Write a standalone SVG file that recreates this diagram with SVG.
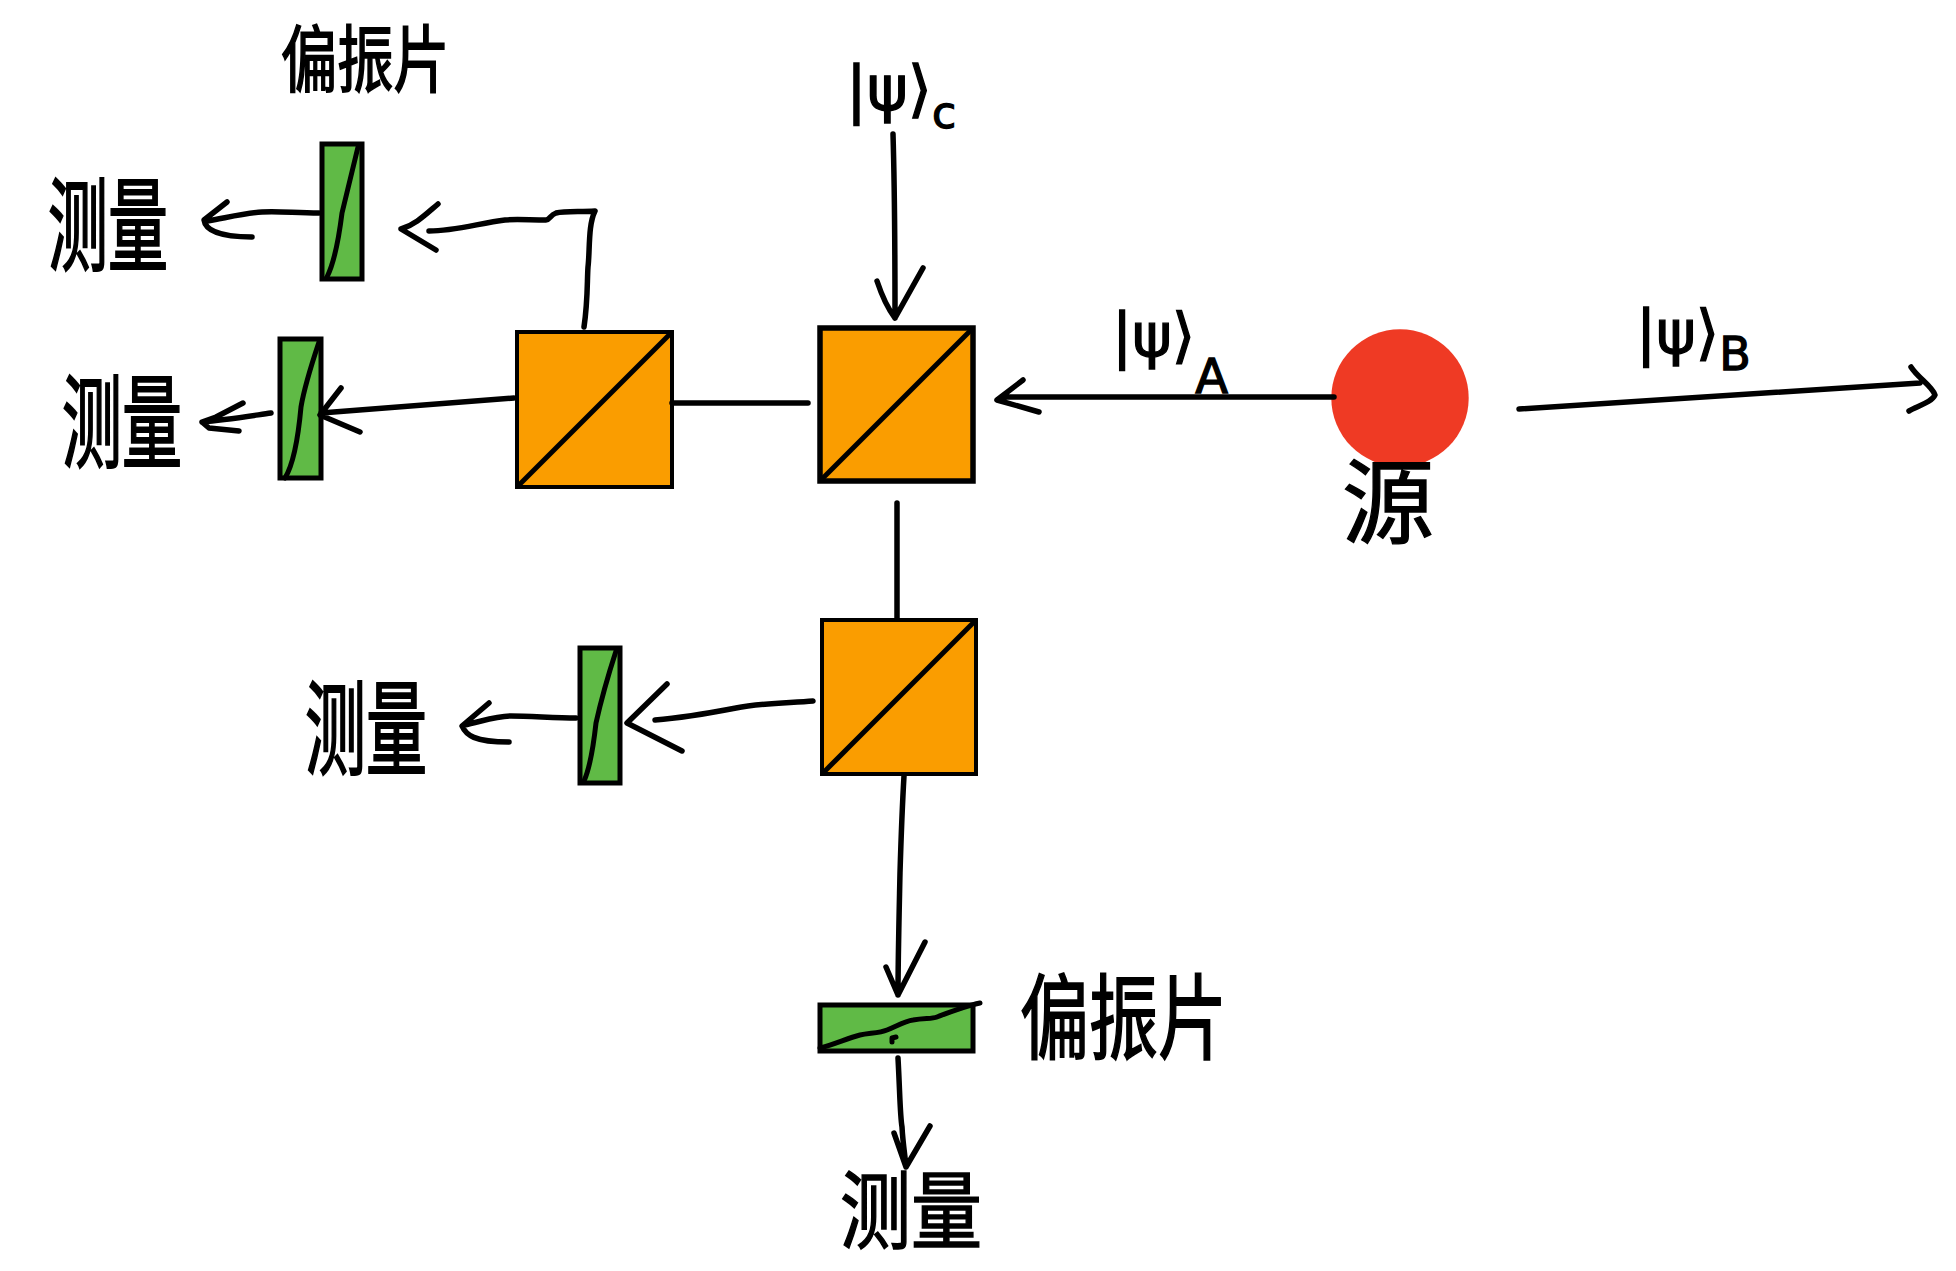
<svg xmlns="http://www.w3.org/2000/svg" width="1956" height="1271" viewBox="0 0 1956 1271">
<style>
.bg{fill:#fff}
.o{fill:#FA9D00;stroke:#000;stroke-width:4}
.g{fill:#60BA46;stroke:#000;stroke-width:5}
.d{fill:none;stroke:#000;stroke-width:5;stroke-linecap:round;stroke-linejoin:round}
.c path{fill:none;stroke:#000;stroke-width:5.5;stroke-linecap:round;stroke-linejoin:round}
.t{font-family:"Noto Sans CJK SC","Noto Sans",sans-serif;fill:#000;stroke:#000;stroke-width:1.3}
.k{font-family:"DejaVu Sans","Liberation Sans",sans-serif;fill:#000;stroke:#000;stroke-width:1.3}
</style>
<rect class="bg" width="1956" height="1271"/>
<g id="beamsplitter-1"><rect class="o" x="517" y="332" width="155" height="155"/><path class="d" d="M519 485L670 334"/></g>
<g id="beamsplitter-2"><rect class="o" x="820" y="328" width="153" height="153" style="stroke-width:5.5"/><path class="d" d="M822 479L971 330"/></g>
<g id="beamsplitter-3"><rect class="o" x="822" y="620" width="154" height="154"/><path class="d" d="M824 772L974 622"/></g>
<g id="source"><circle cx="1400" cy="398" r="68.7" fill="#EF3A24"/><text class="t" x="1342" y="536" font-size="92">源</text></g>
<g id="polarizer-1"><rect class="g" x="322" y="144" width="40" height="135"/><path class="d" d="M358 147C350 180 345 200 342 213C338 245 333 265 327 277"/><text class="t" transform="translate(281 86) scale(1.04 1.35)" font-size="54">偏振片</text></g>
<g id="polarizer-2"><rect class="g" x="280" y="339" width="41" height="139"/><path class="d" d="M319 342C308 375 303 395 301 407C298 440 293 465 285 478"/></g>
<g id="polarizer-3"><rect class="g" x="580" y="648" width="40" height="135"/><path class="d" d="M616 651C605 685 600 705 596 723C593 750 589 770 584 781"/></g>
<g id="polarizer-4"><rect class="g" x="820" y="1005" width="153" height="46"/><path class="d" d="M820 1048C835 1044 848 1038 860 1035C870 1033 880 1033 887 1030C897 1026 905 1021 913 1020C925 1018 932 1019 937 1017C950 1012 965 1006 980 1003"/><path class="d" d="M892 1042L892 1038L896 1037"/><text class="t" transform="translate(1020 1052) scale(1 1.35)" font-size="69">偏振片</text></g>
<g id="measure-1"><text class="t" transform="translate(48 263) scale(1 1.7)" font-size="60">测量</text></g>
<g id="measure-2"><text class="t" transform="translate(62 460) scale(1 1.7)" font-size="60">测量</text></g>
<g id="measure-3"><text class="t" transform="translate(305 767) scale(1 1.7)" font-size="61">测量</text></g>
<g id="measure-4"><text class="t" transform="translate(840 1242) scale(1 1.2)" font-size="71">测量</text></g>
<g id="state-c"><text class="k" x="846" y="110" font-size="62">|ψ⟩<tspan font-size="44" dy="18">c</tspan></text></g>
<g id="state-a"><text class="k" x="1112" y="356" font-size="60">|ψ⟩<tspan font-size="48" dy="37">A</tspan></text></g>
<g id="state-b"><text class="k" x="1636" y="353" font-size="60">|ψ⟩<tspan font-size="46" dy="17">B</tspan></text></g>
<g id="connectors" class="c">
<path d="M893 134C895 200 895 260 895 318M877 281Q885 305 895 318L923 268"/>
<path d="M1334 397L1002 397M1023 380L997 400L1039 412"/>
<path d="M1519 409L1920 383M1911 367C1918 378 1932 386 1935 395C1932 402 1918 406 1909 411"/>
<path d="M672 403L808 403"/>
<path d="M897 503L897 618"/>
<path d="M584 327C588 300 587 280 588 267C590 250 588 225 595 211C580 212 565 211 556 213C550 215 550 220 546 220C530 220 515 219 505 220C480 223 455 231 429 231M438 204C425 215 415 225 401 229L436 250"/>
<path d="M319 213C295 213 280 211 262 212C245 213 225 218 207 221M227 202L204 220C205 228 215 237 252 237"/>
<path d="M514 398L321 413M341 388L320 415L360 432"/>
<path d="M271 413C250 416 225 420 202 422M243 403L216 417L202 422L209 428L239 431"/>
<path d="M813 701C790 703 760 703 736 708C710 713 680 718 655 720M667 684L627 723L682 751"/>
<path d="M576 718C555 718 530 716 511 716C495 716 480 722 464 725M489 703L462 726C466 735 474 742 509 742"/>
<path d="M904 776C902 810 901 840 900 873C899 920 898 960 898 995M886 967L898 995L925 942"/>
<path d="M898 1058C900 1095 900 1115 902 1127C903 1145 905 1155 906 1167M894 1133L906 1167L930 1126"/>
</g>
</svg>
